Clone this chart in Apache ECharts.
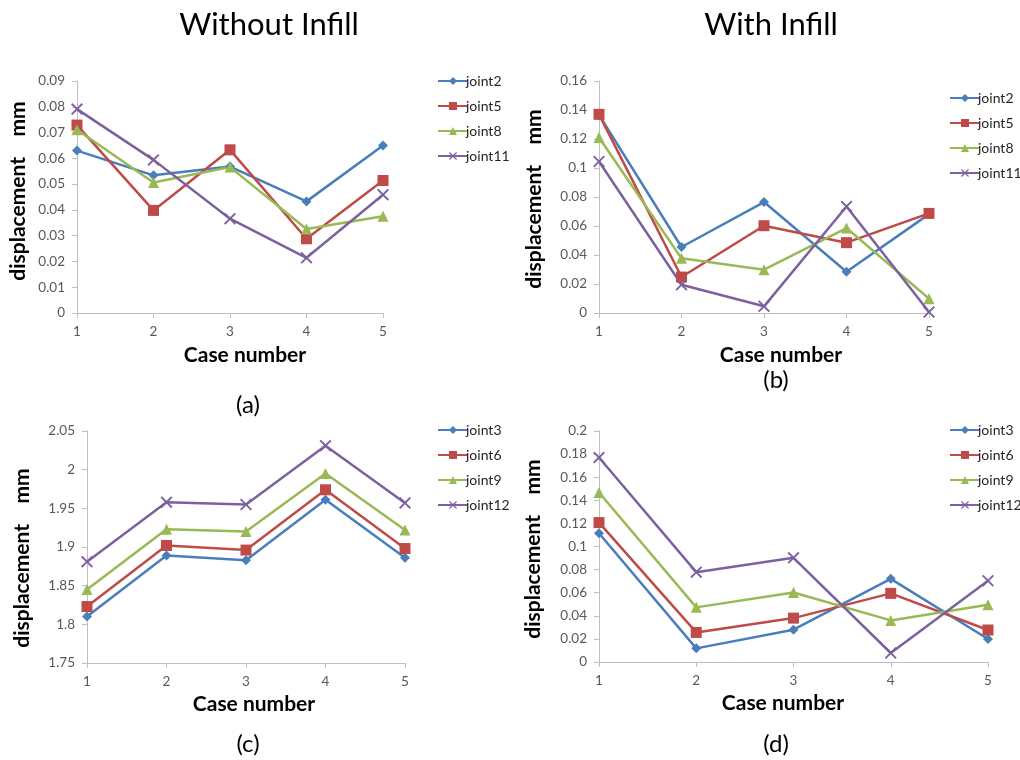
<!DOCTYPE html>
<html>
<head>
<meta charset="utf-8">
<script src="https://cdn.jsdelivr.net/npm/echarts@6/dist/echarts.min.js"></script>
<style>
html,body{margin:0;padding:0;background:#fff;}
#chart{width:1020px;height:760px;}
</style>
</head>
<body>
<div id="chart"></div>
<script>
// ---- data ----
const cases = [1, 2, 3, 4, 5];

const aNames = ['joint2', 'joint5', 'joint8', 'joint11'];
const a_joint2  = [0.0630, 0.0534, 0.0568, 0.0433, 0.0650];
const a_joint5  = [0.0729, 0.0398, 0.0633, 0.0288, 0.0514];
const a_joint8  = [0.0711, 0.0506, 0.0566, 0.0326, 0.0375];
const a_joint11 = [0.0791, 0.0594, 0.0366, 0.0214, 0.0459];

const bNames = ['joint2', 'joint5', 'joint8', 'joint11'];
const b_joint2  = [0.1366, 0.0455, 0.0765, 0.0285, 0.0682];
const b_joint5  = [0.1370, 0.0248, 0.0602, 0.0485, 0.0687];
const b_joint8  = [0.1210, 0.0377, 0.0299, 0.0586, 0.0099];
const b_joint11 = [0.1045, 0.0195, 0.0046, 0.0735, 0.0007];

const cNames = ['joint3', 'joint6', 'joint9', 'joint12'];
const c_joint3  = [1.810, 1.889, 1.883, 1.961, 1.886];
const c_joint6  = [1.823, 1.902, 1.896, 1.974, 1.898];
const c_joint9  = [1.845, 1.923, 1.920, 1.995, 1.922];
const c_joint12 = [1.881, 1.958, 1.955, 2.031, 1.957];

const dNames = ['joint3', 'joint6', 'joint9', 'joint12'];
const d_joint3  = [0.1115, 0.0118, 0.0280, 0.0720, 0.0199];
const d_joint6  = [0.1207, 0.0256, 0.0380, 0.0594, 0.0277];
const d_joint9  = [0.1467, 0.0473, 0.0602, 0.0360, 0.0496];
const d_joint12 = [0.1770, 0.0778, 0.0902, 0.0078, 0.0703];

const titles = ['Without Infill', 'With Infill'];
const captions = ['(a)', '(b)', '(c)', '(d)'];
const yTitle = 'displacement    mm';
const xTitle = 'Case number';

// ---- styles ----
const FONT = 'Lato, "Open Sans", sans-serif';
const colors = ['#4A7EBB', '#BE4B48', '#98B954', '#7D60A0'];
const xPath = 'path://M0,1.1 L1.1,0 L5,3.9 L8.9,0 L10,1.1 L6.1,5 L10,8.9 L8.9,10 L5,6.1 L1.1,10 L0,8.9 L3.9,5 Z';
const symbols = ['diamond', 'rect', 'triangle', xPath];
const symSizes = [10, 11, 11, 12];

const panels = [
  {names: aNames, data: [a_joint2, a_joint5, a_joint8, a_joint11], min: 0, max: 0.09, interval: 0.01,
   grid: {left: 77, top: 81, width: 306, height: 232}, legend: {left: 432, top: 69}},
  {names: bNames, data: [b_joint2, b_joint5, b_joint8, b_joint11], min: 0, max: 0.16, interval: 0.02,
   grid: {left: 599, top: 81, width: 330, height: 232}, legend: {left: 944, top: 86}},
  {names: cNames, data: [c_joint3, c_joint6, c_joint9, c_joint12], min: 1.75, max: 2.05, interval: 0.05,
   grid: {left: 87, top: 431, width: 318, height: 232}, legend: {left: 432, top: 418}},
  {names: dNames, data: [d_joint3, d_joint6, d_joint9, d_joint12], min: 0, max: 0.2, interval: 0.02,
   grid: {left: 599, top: 431, width: 389, height: 231}, legend: {left: 944, top: 418}}
];

const grid = [], xAxis = [], yAxis = [], series = [], legend = [];
panels.forEach((p, i) => {
  grid.push(Object.assign({containLabel: false}, p.grid));
  xAxis.push({
    type: 'value', gridIndex: i, min: 1, max: 5, interval: 1,
    axisLine: {show: true, onZero: false, lineStyle: {color: '#BFBFBF'}},
    axisTick: {show: true, inside: false, length: 5, lineStyle: {color: '#BFBFBF'}},
    splitLine: {show: false},
    axisLabel: {color: '#595959', fontSize: 13.5, fontFamily: FONT, margin: 12}
  });
  yAxis.push({
    type: 'value', gridIndex: i, min: p.min, max: p.max, interval: p.interval,
    axisLine: {show: true, lineStyle: {color: '#BFBFBF'}},
    axisTick: {show: true, inside: false, length: 5, lineStyle: {color: '#BFBFBF'}},
    splitLine: {show: false},
    axisLabel: {color: '#595959', fontSize: 13.5, fontFamily: FONT, margin: 12}
  });
  p.names.forEach((n, k) => {
    series.push({
      name: n, type: 'line', xAxisIndex: i, yAxisIndex: i,
      data: p.data[k].map((v, j) => [cases[j], v]),
      symbol: symbols[k], symbolSize: symSizes[k], showAllSymbol: true,
      lineStyle: {color: colors[k], width: 2.5},
      itemStyle: {color: colors[k], borderColor: colors[k], borderWidth: 0},
      emphasis: {disabled: true},
      animation: false
    });
  });
  legend.push({
    orient: 'vertical', left: p.legend.left, top: p.legend.top,
    itemWidth: 30, itemHeight: 10, itemGap: 11,
    data: p.names,
    textStyle: {color: '#262626', fontSize: 14, fontFamily: FONT, padding: [0, 0, 0, -7],
                overflow: 'none', width: 60},
    selectedMode: false
  });
});

const graphic = [];
const txt = (x, y, text, size, weight, rot) => graphic.push({
  type: 'text', x: x, y: y, rotation: rot || 0,
  style: {text: text, fontSize: size, fontWeight: weight, fontFamily: FONT, fill: '#000',
          textAlign: 'center', textVerticalAlign: 'middle'}
});
txt(269, 25, titles[0], 31, 'normal');
txt(771, 25, titles[1], 31, 'normal');
txt(248, 405, captions[0], 24, 'normal');
txt(776, 380, captions[1], 24, 'normal');
txt(248, 744, captions[2], 24, 'normal');
txt(776, 744, captions[3], 24, 'normal');
txt(245, 355, xTitle, 21, 'bold');
txt(781, 355, xTitle, 21, 'bold');
txt(254, 704, xTitle, 21, 'bold');
txt(783, 703, xTitle, 21, 'bold');
txt(18, 191, yTitle, 21, 'bold', Math.PI / 2);
txt(534, 199, yTitle, 21, 'bold', Math.PI / 2);
txt(22, 558, yTitle, 21, 'bold', Math.PI / 2);
txt(533, 549, yTitle, 21, 'bold', Math.PI / 2);

const chart = echarts.init(document.getElementById('chart'), null, {renderer: 'canvas'});
chart.setOption({
  animation: false,
  backgroundColor: '#ffffff',
  grid, xAxis, yAxis, series, legend, graphic
});
</script>
</body>
</html>
